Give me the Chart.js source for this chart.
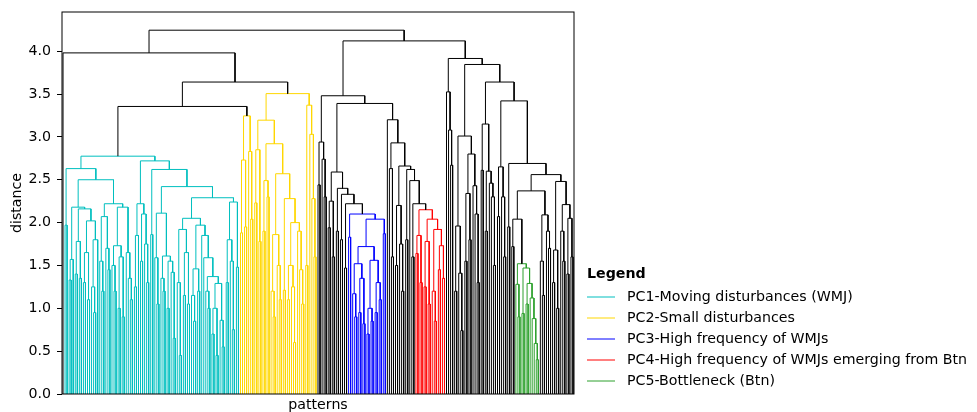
<!DOCTYPE html>
<html>
<head>
<meta charset="utf-8">
<script src="https://cdn.jsdelivr.net/npm/chart.js@4.4.0/dist/chart.umd.min.js"></script>
<style>
  html, body { margin: 0; padding: 0; background: #fff; }
  #wrap { position: relative; width: 977px; height: 412px; }
</style>
</head>
<body>
<div id="wrap"><canvas id="grafik" width="977" height="412"></canvas></div>
<script>
// Dendrogram nodes: [distance, left, right], a leaf is 0, a string points to a coloured cluster
const cyanTree = [2.775,
  [2.63, [1.97, 0, 0],
    [2.50,
      [2.18, [1.57, [1.33, 0, 0], 0],
        [2.16, [1.78, [1.40, 0, 0], [1.35, 0, 0]],
          [2.02, [1.65, [1.30, 0, 0], [1.10, 0, 0]], [1.80, [1.25, 0, [0.95, 0, 0]], 0]]]],
      [2.22, [2.07, [1.55, 0, [1.20, 0, 0]], [1.70, 0, [1.45, 0, 0]]],
        [2.18, [1.73, [1.50, 0, [1.20, 0, 0]], [1.60, [1.00, 0, 0], [0.90, 0, 0]]],
          [1.65, 0, [1.35, 0, [1.10, 0, 0]]]]]]],
  [2.72,
    [2.22, [1.85, [1.25, 0, 0], 0], [2.10, [1.55, 0, 0], [1.75, 0, [1.30, 0, 0]]]],
    [2.62, [1.86, 0, 0],
      [2.42,
        [2.11, [1.59, 0, [1.05, 0, 0]],
          [1.61, [1.35, 0, [1.20, 0, 0]], [1.55, [1.00, 0, 0], [1.42, 0, [0.65, 0, 0]]]]],
        [2.29,
          [2.05, [1.92, [1.30, 0, [0.45, 0, 0]], [1.65, [1.15, 0, 0], [1.05, 0, 0]]],
            [1.97, [1.46, [1.15, 0, [0.85, 0, 0]], [1.20, 0, 0]],
              [1.85, 0, [1.59, 0, [1.37, [1.20, 0, [1.00, 0, 0]],
                [1.29, [1.00, [0.70, 0, 0], [0.45, 0, 0]], [0.86, 0, [0.55, 0, 0]]]]]]]],
          [2.24, [1.80, [1.30, 0, 0], [1.55, 0, [0.75, 0, 0]]], [1.48, 0, 0]]]]]]];

const yellowTreeA = [3.245, [2.73, [1.88, 0, 0], [1.95, 0, 0]], [2.83, 0, [2.04, 0, 0]]];

const yellowTreeB = [3.505,
  [3.195, [2.85, [2.23, 0, 0], [1.78, 0, 0]],
    [2.92, [2.49, [1.90, 0, 0], [2.30, 0, 0]],
      [2.57, [1.86, [1.20, 0, [0.90, 0, 0]], [1.50, 0, [1.10, 0, 0]]],
        [2.28, [1.21, 0, 0],
          [2.00, [1.50, [1.10, 0, 0], [1.25, 0, [0.60, 0, 0]]], [1.90, 0, [1.45, 0, [1.05, 0, 0]]]]]]]],
  [3.37, [1.50, 0, 0], [3.03, 0, [2.28, 0, [1.60, 0, 0]]]]];

const blueTree = [2.10, [1.83, 0, 0],
  [2.04,
    [1.72, [1.52, [1.17, 0, [0.90, 0, 0]], [1.35, [0.95, 0, 0], [0.82, 0, 0]]],
      [1.56, [1.00, [0.70, 0, 0], [0.85, 0, 0]], [1.30, [0.95, 0, 0], [1.10, 0, 0]]]],
    [1.87, 0, 0]]];

const redTree = [2.15, [1.85, [1.64, 0, 0], [1.30, 0, 0]],
  [2.04, [1.78, [1.25, 0, 0], [1.05, 0, 0]],
    [1.92, [1.20, 0, [0.85, 0, 0]], [1.73, [1.45, 0, 0], [1.35, 0, 0]]]]];

const greenTree = [1.52, [1.28, 0, [0.90, 0, 0]],
  [1.47, [0.94, 0, 0],
    [1.29, [1.05, 0, 0], [1.12, 0, [0.88, 0, [0.59, 0, [0.40, 0, 0]]]]]]];

const grayTreeL = [3.48, [2.94, [2.44, 0, 0], [2.74, 0, [2.30, 0, 0]]],
  [3.39,
    [2.59, [2.25, [1.94, 0, 0], [1.60, 0, 0]],
      [2.40, [1.90, 0, 0], [2.33, [1.80, 0, 0], [2.22, [1.47, 0, 0], "blue"]]]],
    [3.20, 0,
      [2.93, [2.63, 0, [1.60, 0, 0]],
        [2.66, [2.20, [1.50, 0, 0], [1.75, 0, [1.20, 0, 0]]],
          [2.62, [1.80, 0, 0], [2.49, 0, [2.22, [1.60, 0, 0], "red"]]]]]]]];

const grayTreeR = [3.915, [3.525, 0, [3.08, 0, [2.67, 0, 0]]],
  [3.845,
    [3.01, [1.96, [1.20, 0, 0], [1.41, 0, [0.74, 0, 0]]],
      [2.80, [2.34, [1.55, 0, 0], [1.80, 0, 0]], [2.43, 0, [2.10, 0, [1.30, 0, 0]]]]],
    [3.64,
      [3.15, [2.61, 0, 0], [2.60, [1.90, 0, 0], [2.46, 0, [2.30, 0, [1.50, 0, 0]]]]],
      [3.42, [2.65, [2.07, 0, 0], [2.30, 0, [1.60, 0, 0]]],
        [2.69, [1.95, 0, 0],
          [2.56,
            [2.37, [2.04, [1.72, 0, 0], "green"], [2.09, [1.55, 0, [1.15, 0, 0]], [1.90, 0, [1.70, 0, 0]]]],
            [2.48, [1.68, [1.30, 0, 0], [1.00, 0, 0]],
              [2.21, [1.90, 0, [1.55, 0, 0]], [2.05, [1.40, 0, 0], [1.60, 0, 0]]]]]]]]]];

const topTree = [4.245, [3.98, 0, [3.64, [3.355, "cyan", "yellowA"], "yellowB"]], [4.12, "grayL", "grayR"]];

const yTicks = [0, 0.5, 1.0, 1.5, 2.0, 2.5, 3.0, 3.5, 4.0];
const legendLabels = [
  "PC1-Moving disturbances (WMJ)",
  "PC2-Small disturbances",
  "PC3-High frequency of WMJs",
  "PC4-High frequency of WMJs emerging from Btn",
  "PC5-Bottleneck (Btn)"
];
const legendColors = ["#00bfbf", "#ffd700", "#0000ff", "#ff0000", "#2ca02c"];
const linkColor = "#000000";

const clusters = {
  cyan: [cyanTree, legendColors[0]],
  yellowA: [yellowTreeA, legendColors[1]],
  yellowB: [yellowTreeB, legendColors[1]],
  blue: [blueTree, legendColors[2]],
  red: [redTree, legendColors[3]],
  green: [greenTree, legendColors[4]],
  grayL: [grayTreeL, linkColor],
  grayR: [grayTreeR, linkColor]
};

// walk the tree, leaves sit at 5, 15, 25 ... like scipy
let leafCount = 0;
const segs = {};
function walk(node, color) {
  if (node === 0) {
    let x = leafCount * 10 + 5;
    leafCount++;
    return { x: x, h: 0 };
  }
  if (typeof node === "string") {
    return walk(clusters[node][0], clusters[node][1]);
  }
  let a = walk(node[1], color);
  let b = walk(node[2], color);
  let h = node[0];
  if (!segs[color]) segs[color] = [];
  segs[color].push({ x: a.x, y: a.h }, { x: a.x, y: h }, { x: b.x, y: h }, { x: b.x, y: b.h }, { x: b.x, y: null });
  return { x: (a.x + b.x) / 2, h: h };
}
walk(topTree, linkColor);

const FONT = "'DejaVu Sans', sans-serif";
const FONT_SIZE = 14.2;
const colorOrder = [linkColor].concat(legendColors);
const datasets = colorOrder.filter(c => segs[c]).map(c => ({
  data: segs[c],
  borderColor: c,
  borderWidth: 1,
  pointRadius: 0,
  tension: 0,
  spanGaps: false,
  fill: false
}));

const framePlugin = {
  id: "frame",
  afterDatasetsDraw(chart) {
    let a = chart.chartArea;
    let ctx = chart.ctx;
    ctx.save();
    ctx.strokeStyle = "#000";
    ctx.lineWidth = 1;
    ctx.strokeRect(a.left, a.top, a.right - a.left, a.bottom - a.top);
    ctx.restore();
  }
};

const legendPlugin = {
  id: "sideLegend",
  afterDraw(chart) {
    let ctx = chart.ctx;
    ctx.save();
    ctx.textBaseline = "middle";
    ctx.fillStyle = "#000";
    ctx.font = "bold " + FONT_SIZE + "px " + FONT;
    ctx.fillText("Legend", 587, 274);
    ctx.font = FONT_SIZE + "px " + FONT;
    legendLabels.forEach((t, i) => {
      let y = 297 + i * 21;
      ctx.strokeStyle = legendColors[i];
      ctx.lineWidth = 1;
      ctx.beginPath();
      ctx.moveTo(587, y);
      ctx.lineTo(615, y);
      ctx.stroke();
      ctx.fillText(t, 627, y);
    });
    ctx.restore();
  }
};

new Chart(document.getElementById("grafik").getContext("2d"), {
  type: "line",
  data: { datasets: datasets },
  options: {
    responsive: false,
    animation: false,
    devicePixelRatio: 1,
    layout: { padding: { left: 0, top: 12, right: 403, bottom: 0 } },
    plugins: { legend: { display: false }, tooltip: { enabled: false } },
    scales: {
      x: {
        type: "linear",
        min: 0,
        max: leafCount * 10,
        grid: { display: false },
        border: { display: false },
        ticks: { display: false },
        title: { display: true, text: "patterns", color: "#000", font: { family: FONT, size: FONT_SIZE }, padding: { top: 0, bottom: -2 } },
        afterFit: s => { s.height = 18; s.paddingLeft = 0; s.paddingRight = 0; }
      },
      y: {
        type: "linear",
        min: 0,
        max: topTree[0] * 1.05,
        grid: { display: true, drawOnChartArea: false, drawTicks: true, tickLength: 5, color: "#000" },
        border: { display: false },
        ticks: { padding: 6, color: "#000", font: { family: FONT, size: FONT_SIZE }, callback: v => v.toFixed(1) },
        afterBuildTicks: s => { s.ticks = yTicks.map(v => ({ value: v })); },
        title: { display: true, text: "distance", color: "#000", font: { family: FONT, size: FONT_SIZE }, padding: { top: 9, bottom: 0 } },
        afterFit: s => { s.width = 62; s.paddingTop = 0; s.paddingBottom = 0; }
      }
    }
  },
  plugins: [framePlugin, legendPlugin]
});
</script>
</body>
</html>
